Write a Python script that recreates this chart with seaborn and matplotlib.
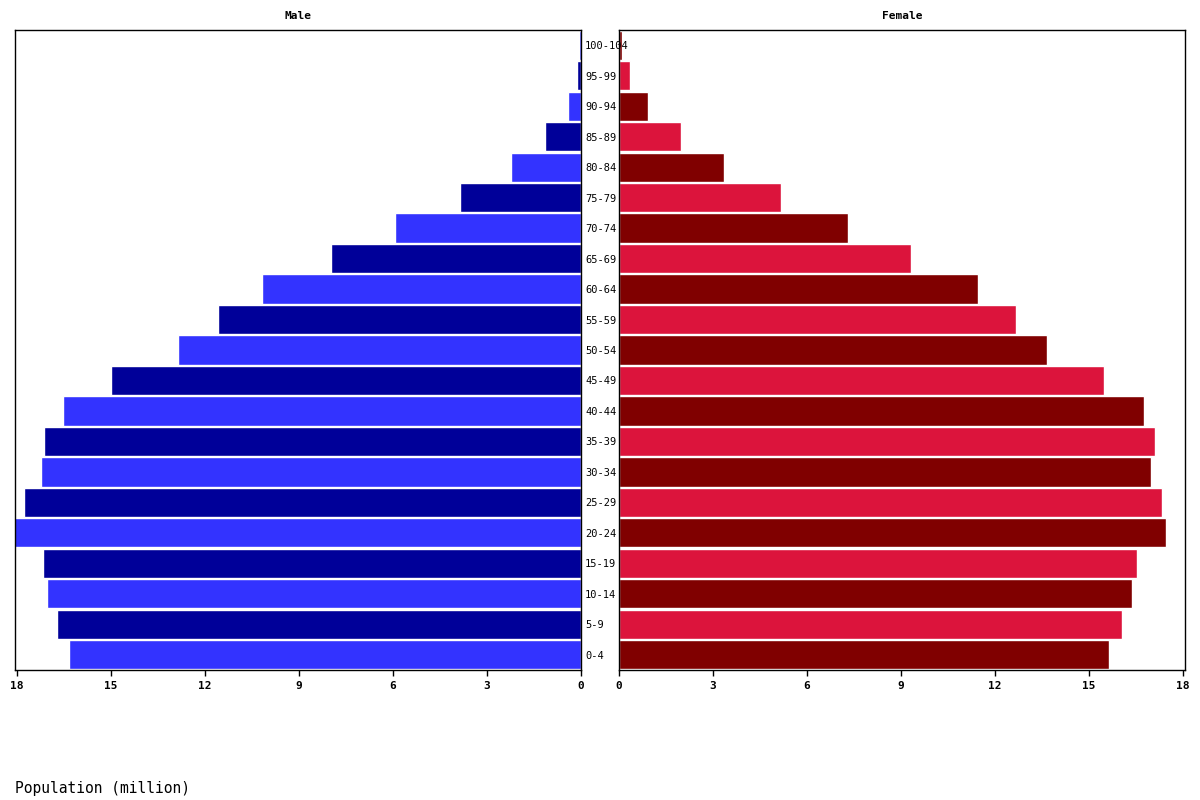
import numpy as np
import matplotlib
matplotlib.use('Agg')
import matplotlib.pyplot as plt
import pandas as pd
import seaborn as sns

# population pyramid data (million), youngest first
ages = ['0-4', '5-9', '10-14', '15-19', '20-24', '25-29', '30-34', '35-39',
        '40-44', '45-49', '50-54', '55-59', '60-64', '65-69', '70-74',
        '75-79', '80-84', '85-89', '90-94', '95-99', '100-104']
male = [16.33, 16.72, 17.03, 17.16, 18.1, 17.78, 17.23, 17.13,
        16.53, 14.99, 12.86, 11.59, 10.18, 7.98, 5.94,
        3.87, 2.23, 1.15, 0.41, 0.13, 0.06]
female = [15.62, 16.04, 16.36, 16.52, 17.44, 17.33, 16.98, 17.11,
          16.76, 15.48, 13.66, 12.68, 11.46, 9.32, 7.31,
          5.16, 3.34, 1.98, 0.93, 0.35, 0.1]
ticks = [0, 3, 6, 9, 12, 15, 18]

male_colors = ['#3333FF' if i % 2 == 0 else '#000099' for i in range(len(ages))]
female_colors = ['#800000' if i % 2 == 0 else '#DC143C' for i in range(len(ages))]

df = pd.DataFrame({'age': ages, 'male': male, 'female': female})
order = ages[::-1]

sns.set_style('white')
plt.rcParams['font.family'] = ['DejaVu Sans Mono', 'DejaVu Sans']
plt.rcParams['text.color'] = 'black'
plt.rcParams['xtick.color'] = 'black'
plt.rcParams['ytick.color'] = 'black'

fig = plt.figure(figsize=(12, 8), dpi=100)
ax_m = fig.add_axes([15/1200, 1 - 670/800, 566/1200, 640/800])
ax_f = fig.add_axes([619/1200, 1 - 670/800, 566/1200, 640/800])
ax_m.set_zorder(3)  # so the age labels sit on top of the female panel

#male side
sns.barplot(data=df, x='male', y='age', hue='age', order=order, hue_order=ages,
            palette=male_colors, legend=False, orient='h', width=0.96,
            saturation=1, ax=ax_m)
ax_m.set_xlim(18.06, 0)
ax_m.yaxis.tick_right()
ax_m.tick_params(axis='y', length=0, pad=3, labelsize=7.5, labelcolor='black')
for lbl in ax_m.get_yticklabels():
    lbl.set_horizontalalignment('left')

#female side
sns.barplot(data=df, x='female', y='age', hue='age', order=order, hue_order=ages,
            palette=female_colors, legend=False, orient='h', width=0.96,
            saturation=1, ax=ax_f)
ax_f.set_xlim(0, 18.06)
ax_f.set_yticks([])

for ax, title in [(ax_m, 'Male'), (ax_f, 'Female')]:
    ax.set_xticks(ticks)
    ax.set_xticklabels([str(t) for t in ticks], fontweight='bold')
    ax.tick_params(axis='x', direction='out', length=4, width=1, labelsize=8,
                   bottom=True, pad=4, labelcolor='black')
    ax.set_xlabel('')
    ax.set_ylabel('')
    ax.set_title(title, fontsize=8, fontweight='bold', pad=8, color='black')
    for s in ax.spines.values():
        s.set_visible(True)
        s.set_color('black')
        s.set_linewidth(1)

fig.text(15/1200, 1 - 788/800, 'Population (million)', fontsize=10.5,
         va='center', ha='left', color='black')

fig.savefig('out.png', dpi=100)
